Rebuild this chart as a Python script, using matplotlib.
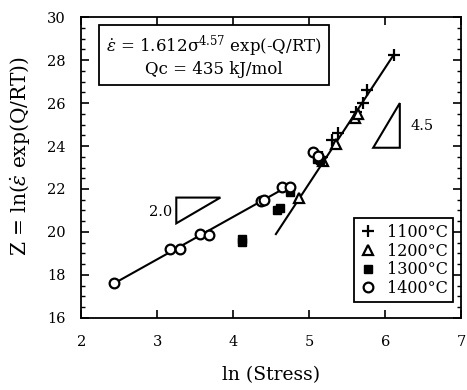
import matplotlib
matplotlib.use("Agg")
import matplotlib.pyplot as plt
from matplotlib.ticker import MultipleLocator
from matplotlib.patches import Polygon

plt.rcParams['font.family'] = ['DejaVu Serif']
plt.rcParams['mathtext.fontset'] = 'dejavuserif'

# data (x = ln stress, y = Z)
x_1100 = [5.17, 5.30, 5.38, 5.62, 5.70, 5.76, 6.11]
y_1100 = [23.5, 24.3, 24.6, 25.6, 26.0, 26.6, 28.25]
x_1200 = [4.87, 5.18, 5.35, 5.60, 5.64]
y_1200 = [21.6, 23.3, 24.1, 25.3, 25.5]
x_1300 = [4.11, 4.12, 4.58, 4.62, 4.74, 5.10, 5.14]
y_1300 = [19.65, 19.55, 21.0, 21.1, 21.85, 23.4, 23.35]
x_1400 = [2.43, 3.17, 3.30, 3.56, 3.68, 4.37, 4.40, 4.64, 4.74, 5.05, 5.12]
y_1400 = [17.6, 19.2, 19.2, 19.9, 19.85, 21.45, 21.5, 22.1, 22.1, 23.7, 23.55]

# fitted lines
fit_low_x = [2.43, 4.68]
fit_low_y = [17.6, 22.05]
fit_high_x = [4.56, 6.11]
fit_high_y = [19.9, 28.25]

# slope triangles
tri_low = [(3.25, 21.6), (3.83, 21.6), (3.25, 20.4)]
tri_high = [(6.19, 26.0), (5.84, 23.92), (6.19, 23.92)]

fig = plt.figure(figsize=(4.67, 3.90), dpi=100)
ax = fig.add_axes([0.174, 0.185, 0.814, 0.771])

ax.plot(fit_low_x, fit_low_y, color='black', lw=1.5)
ax.plot(fit_high_x, fit_high_y, color='black', lw=1.5)

ax.plot(x_1100, y_1100, '+', color='black', ms=8, mew=1.6, label='1100°C')
ax.plot(x_1200, y_1200, '^', mfc='white', mec='black', ms=7.5, mew=1.6, label='1200°C')
ax.plot(x_1300, y_1300, 's', color='black', ms=6, label='1300°C')
ax.plot(x_1400, y_1400, 'o', mfc='white', mec='black', ms=7, mew=1.6, label='1400°C')

ax.add_patch(Polygon(tri_low, closed=True, fill=False, ec='black', lw=1.5))
ax.add_patch(Polygon(tri_high, closed=True, fill=False, ec='black', lw=1.5))
ax.text(3.2, 20.95, '2.0', fontsize=10.5, ha='right', va='center')
ax.text(6.33, 24.95, '4.5', fontsize=10.5, ha='left', va='center')

ax.text(0.349, 0.870,
        r'$\dot{\varepsilon}$ = 1.612σ$^{4.57}$ exp(-Q/RT)' + '\nQc = 435 kJ/mol',
        transform=ax.transAxes, fontsize=12, ha='center', va='center',
        linespacing=1.15,
        bbox=dict(boxstyle='square,pad=0.4', fc='white', ec='black', lw=1.3))

leg = ax.legend(loc='lower right', fontsize=11.5, handlelength=1.0,
                handletextpad=0.7, borderpad=0.35, labelspacing=0.1,
                fancybox=False, framealpha=1,
                bbox_to_anchor=(1.0, 0.025))
leg.get_frame().set_edgecolor('black')
leg.get_frame().set_linewidth(1.3)

ax.set_xlim(2, 7)
ax.set_ylim(16, 30)
ax.xaxis.set_major_locator(MultipleLocator(1))
ax.yaxis.set_major_locator(MultipleLocator(2))
ax.yaxis.set_minor_locator(MultipleLocator(0.5))
ax.tick_params(which='both', direction='in', top=True, right=True, labelsize=10.5)
ax.tick_params(which='major', length=6, width=1.2)
ax.tick_params(which='minor', length=3, width=1.0)
ax.tick_params(axis='x', pad=12)
ax.tick_params(axis='y', pad=11)
for s in ax.spines.values():
    s.set_linewidth(1.3)

ax.set_xlabel('ln (Stress)', fontsize=13.5, labelpad=13)
ax.set_ylabel(r'Z = ln($\dot{\varepsilon}$ exp(Q/RT))', fontsize=14.5)
ax.yaxis.set_label_coords(-0.13, 0.538)

fig.savefig('out.png', dpi=100)
